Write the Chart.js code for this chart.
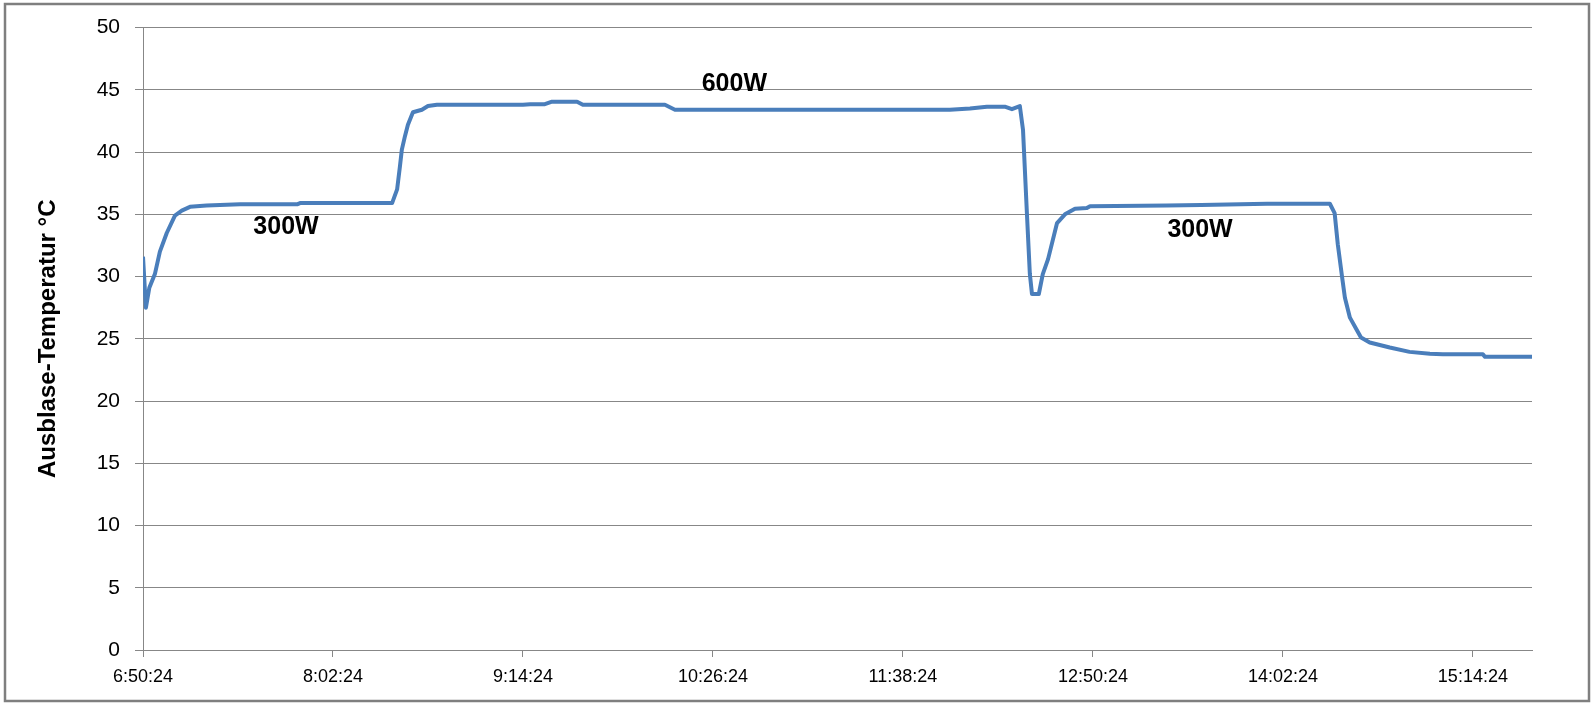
<!DOCTYPE html>
<html lang="de">
<head>
<meta charset="utf-8">
<title>Ausblase-Temperatur</title>
<script src="https://cdn.jsdelivr.net/npm/chart.js@4.4.1/dist/chart.umd.min.js"></script>
<style>
  html, body {
    margin: 0;
    padding: 0;
    background: #fff;
  }
  #chart {
    display: block;
  }
</style>
</head>
<body>
<canvas id="chart" width="1594" height="705"></canvas>
<script>
// minutes after 6:50:24
const minutes = [
  0, 1.1, 2.4, 4.5, 6.4, 9.0, 12.1, 14.7, 17.8, 24.1, 36.8, 58.4, 59.5, 94.4,
  94.7, 96.3, 97.4, 98.1, 99.3, 100.4, 102.3, 105.7, 108.0, 111.4, 144.0, 146.7,
  152.3, 155.0, 164.5, 166.7, 197.8, 201.6, 305.8, 313.4, 319.8, 326.6, 329.3, 332.3,
  333.5, 335.0, 336.1, 336.9, 339.5, 341.0, 343.0, 346.4, 349.4, 353.2, 357.7, 358.9,
  388.0, 401.0, 426.0, 449.8,
  451.6, 452.8, 454.4, 455.5, 457.4, 460.0, 461.6, 464.9, 472.5, 480.0, 487.7, 492.6,
  507.8, 508.6, 526.4
];

const temps = [
  31.6, 27.5, 29.1, 30.2, 32.0, 33.5, 34.9, 35.3, 35.6, 35.7, 35.8, 35.8, 35.9, 35.9,
  35.9, 37.0, 38.9, 40.2, 41.3, 42.2, 43.2, 43.4, 43.7, 43.8, 43.8, 43.85,
  43.85, 44.05, 44.05, 43.8, 43.8, 43.4, 43.4, 43.5, 43.65, 43.65, 43.45, 43.7,
  41.8, 35.0, 30.2, 28.6, 28.6, 30.2, 31.4, 34.3, 35.0, 35.45, 35.5, 35.65,
  35.7, 35.75, 35.85, 35.85,
  35.1, 32.6, 30.0, 28.3, 26.7, 25.7, 25.1, 24.7, 24.3, 23.95, 23.8, 23.75,
  23.75, 23.55, 23.55
];

const tickMinutes = [0, 72, 144, 216, 288, 360, 432, 504];
const tickLabels = ['6:50:24', '8:02:24', '9:14:24', '10:26:24', '11:38:24', '12:50:24', '14:02:24', '15:14:24'];

const noteLabels = ['300W', '600W', '300W'];
const noteMinutes = [54.2, 224.1, 400.6];
const noteTemps = [34.0, 45.45, 33.75];

const gridColor = '#878787';
const fontFamily = '"Liberation Sans", Arial, sans-serif';

const frame = {
  id: 'frame',
  beforeDraw: (chart) => {
    const ctx = chart.ctx;
    ctx.save();
    ctx.fillStyle = '#fff';
    ctx.fillRect(0, 0, chart.width, chart.height);
    ctx.strokeStyle = '#7f7f7f';
    ctx.lineWidth = 2.5;
    ctx.strokeRect(5, 4, 1584, 697);
    ctx.restore();
  }
};

const notes = {
  id: 'notes',
  afterDatasetsDraw: (chart) => {
    const ctx = chart.ctx;
    const xs = chart.scales.x;
    const ys = chart.scales.y;
    ctx.save();
    ctx.font = 'bold 25px ' + fontFamily;
    ctx.fillStyle = '#000';
    ctx.textAlign = 'center';
    ctx.textBaseline = 'middle';
    noteLabels.forEach((label, i) => {
      ctx.fillText(label, xs.getPixelForValue(noteMinutes[i]), ys.getPixelForValue(noteTemps[i]));
    });
    ctx.restore();
  }
};

const chart = new Chart(document.querySelector('#chart'), {
  type: 'line',
  data: {
    datasets: [{
      label: 'Ausblase-Temperatur',
      data: minutes.map((m, i) => ({ x: m, y: temps[i] })),
      borderColor: '#4a7ebb',
      borderWidth: 4,
      borderJoinStyle: 'round',
      pointRadius: 0,
      tension: 0,
      fill: false
    }]
  },
  options: {
    responsive: false,
    animation: false,
    layout: {
      padding: { left: 0, top: 25, right: 62, bottom: 0 }
    },
    plugins: {
      legend: { display: false },
      tooltip: { enabled: false }
    },
    scales: {
      x: {
        type: 'linear',
        min: 0,
        max: 526.4,
        afterBuildTicks: (axis) => {
          axis.ticks = tickMinutes.map((v) => ({ value: v }));
        },
        afterFit: (axis) => {
          axis.height = 55;
        },
        grid: {
          drawOnChartArea: false,
          drawTicks: true,
          tickLength: 7,
          color: gridColor
        },
        border: { display: true, color: gridColor, width: 1 },
        ticks: {
          autoSkip: false,
          maxRotation: 0,
          padding: 9,
          color: '#000',
          font: { family: fontFamily, size: 18 },
          callback: (value, index) => tickLabels[index]
        }
      },
      y: {
        min: 0,
        max: 50,
        afterFit: (axis) => {
          axis.width = 143;
        },
        grid: {
          color: gridColor,
          lineWidth: 1,
          tickLength: 8
        },
        border: { display: true, color: gridColor, width: 1 },
        ticks: {
          stepSize: 5,
          padding: 15,
          color: '#000',
          font: { family: fontFamily, size: 21 }
        },
        title: {
          display: true,
          text: 'Ausblase-Temperatur °C',
          color: '#000',
          padding: { top: 34, bottom: 0 },
          font: { family: fontFamily, size: 24, weight: 'bold' }
        }
      }
    }
  },
  plugins: [frame, notes]
});
</script>
</body>
</html>
